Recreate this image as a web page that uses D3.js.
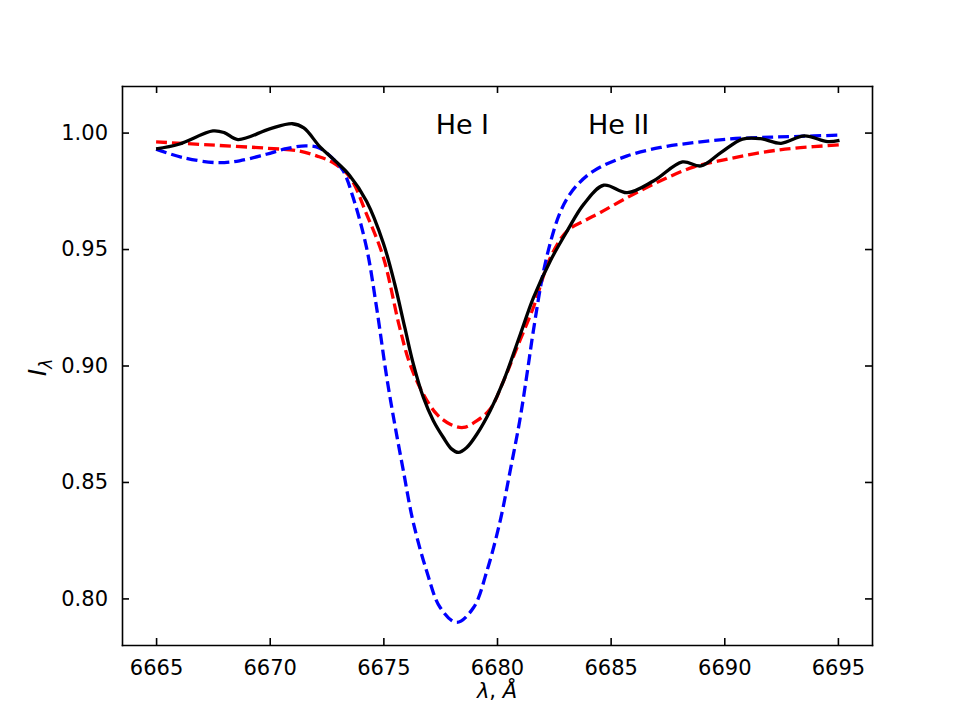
<!DOCTYPE html>
<html lang="en">
<head>
  <meta charset="UTF-8">
  <title>He I 6678 profile</title>
  <style>
    body {
      margin: 0;
      padding: 0;
      background: #fff;
    }
    svg {
      display: block;
      font-family: "DejaVu Sans", sans-serif;
    }
    .tick line, .domain {
      stroke: #000;
      stroke-width: 1.6px;
    }
  </style>
</head>
<body>
  <div id="chart"></div>

  <script src="https://d3js.org/d3.v7.min.js"></script>
  <script>
    // observed profile (black)
    const obsWave = [6665, 6666, 6667.5, 6668, 6668.6, 6670, 6671, 6671.5, 6672.2, 6672.8, 6673.5, 6674.26,
      6675, 6675.5, 6675.95, 6676.32, 6676.76, 6677.2, 6677.64, 6678.01, 6678.3, 6678.67, 6679.12,
      6679.7, 6680.29, 6681.03, 6681.6, 6682.35, 6683.09, 6683.82, 6684.7, 6685.73, 6686.9, 6688.16,
      6688.97, 6689.85, 6690.8, 6691.6, 6692.5, 6693.52, 6694.55, 6695.07];
    const obsFlux = [0.993, 0.995, 1.0007, 1.0, 0.997, 1.0016, 1.0038, 1.002, 0.994, 0.9886, 0.9818, 0.9705,
      0.9525, 0.935, 0.916, 0.9006, 0.8863, 0.8763, 0.8691, 0.8641, 0.8627, 0.8648, 0.8706,
      0.8806, 0.8934, 0.9135, 0.929, 0.945, 0.9578, 0.9693, 0.9774, 0.9742, 0.9793, 0.9874,
      0.9857, 0.9914, 0.9972, 0.9974, 0.9954, 0.9986, 0.9961, 0.9967];

    // model 1 (red dashed)
    const redWave = [6665, 6667.35, 6669.85, 6671.3, 6672.06, 6672.78, 6673.53, 6674.26, 6675, 6675.7,
      6676.17, 6676.76, 6677.35, 6677.94, 6678.52, 6679.12, 6679.7, 6680.29, 6680.88, 6681.6, 6682.35,
      6683.09, 6683.82, 6684.55, 6685.73, 6687.2, 6688.67, 6690.14, 6691.6, 6693.08, 6695.07];
    const redFlux = [0.996, 0.9947, 0.9933, 0.9921, 0.990, 0.9871, 0.9808, 0.965, 0.9464, 0.917,
      0.9006, 0.8877, 0.8791, 0.8748, 0.8734, 0.8763, 0.8813, 0.8934, 0.9077, 0.9249, 0.9464,
      0.9578, 0.962, 0.9657, 0.9721, 0.9793, 0.9853, 0.9886, 0.9914, 0.9933, 0.9947];

    // model 2 (blue dashed)
    const blueWave = [6665, 6666.17, 6667.65, 6668.67, 6669.85, 6670.73, 6671.6, 6672.2, 6672.8, 6673.23,
      6673.67, 6674.26, 6674.7, 6675.15, 6675.5, 6675.88, 6676.3, 6676.9, 6677.5, 6678.23, 6678.97,
      6679.56, 6680.14, 6680.58, 6681.0, 6681.32, 6681.6, 6682.05, 6682.5, 6682.8, 6683.09, 6683.5,
      6684.26, 6685.73, 6687.2, 6688.67, 6690.14, 6691.6, 6693.08, 6695.07];
    const blueFlux = [0.9929, 0.9893, 0.9871, 0.9879, 0.9907, 0.9931, 0.9943, 0.9933, 0.9886, 0.9836,
      0.9721, 0.9506, 0.925, 0.8948, 0.8748, 0.8548, 0.8333, 0.8119, 0.7961, 0.7897, 0.7961,
      0.8119, 0.8333, 0.8548, 0.8763, 0.8963, 0.9149, 0.9406, 0.9580, 0.9662, 0.9718, 0.9772,
      0.9836, 0.99, 0.9936, 0.9957, 0.9972, 0.9979, 0.9983, 0.9989];

    const xTicks = [6665, 6670, 6675, 6680, 6685, 6690, 6695];
    const yTicks = [0.80, 0.85, 0.90, 0.95, 1.00];

    const labels = [
      { text: "He I", wave: 6677.3 },
      { text: "He II", wave: 6684.0 }
    ];

    const width = 968;
    const height = 725;
    const margin = { top: 86, right: 96, bottom: 80, left: 122 };
    const innerW = width - margin.left - margin.right;
    const innerH = height - margin.top - margin.bottom;

    const x = d3.scaleLinear().domain([6663.5, 6696.5]).range([0, innerW]);
    const y = d3.scaleLinear().domain([0.78, 1.02]).range([innerH, 0]);

    const svg = d3.select("#chart")
      .append("svg")
      .attr("width", width)
      .attr("height", height);

    const g = svg.append("g")
      .attr("transform", `translate(${margin.left}, ${margin.top})`);

    // axes with inward ticks on every side
    const tickLen = 7;
    const axes = [
      g.append("g")
        .attr("transform", `translate(0, ${innerH})`)
        .call(d3.axisBottom(x).tickValues(xTicks).tickFormat(d3.format("d")).tickSizeInner(-tickLen).tickSizeOuter(0).tickPadding(tickLen + 8)),
      g.append("g")
        .call(d3.axisTop(x).tickValues(xTicks).tickFormat("").tickSizeInner(-tickLen).tickSizeOuter(0)),
      g.append("g")
        .call(d3.axisLeft(y).tickValues(yTicks).tickFormat(d3.format(".2f")).tickSizeInner(-tickLen).tickSizeOuter(0).tickPadding(tickLen + 7)),
      g.append("g")
        .attr("transform", `translate(${innerW}, 0)`)
        .call(d3.axisRight(y).tickValues(yTicks).tickFormat("").tickSizeInner(-tickLen).tickSizeOuter(0))
    ];

    axes.forEach(a => a.attr("font-family", "DejaVu Sans").attr("font-size", 21));
    g.selectAll(".tick text").attr("fill", "#000");
    g.selectAll(".domain").attr("stroke-linecap", "square");

    // curves
    const line = d3.line()
      .x(d => x(d[0]))
      .y(d => y(d[1]))
      .curve(d3.curveCatmullRom.alpha(0.5));

    const series = [
      { wave: redWave, flux: redFlux, color: "#ff0000", dash: "11,5" },
      { wave: blueWave, flux: blueFlux, color: "#0000ff", dash: "11,5" },
      { wave: obsWave, flux: obsFlux, color: "#000000", dash: null }
    ];

    series.forEach(s => {
      g.append("path")
        .datum(s.wave.map((w, i) => [w, s.flux[i]]))
        .attr("fill", "none")
        .attr("stroke", s.color)
        .attr("stroke-width", 3.3)
        .attr("stroke-dasharray", s.dash)
        .attr("d", line);
    });

    // line labels
    g.selectAll(".line-label")
      .data(labels)
      .enter()
      .append("text")
      .attr("class", "line-label")
      .attr("x", d => x(d.wave))
      .attr("y", y(1.0) + 1.5)
      .attr("font-size", 27)
      .text(d => d.text);

    // axis titles
    const xLabel = svg.append("text")
      .attr("x", margin.left + innerW / 2)
      .attr("y", 698)
      .attr("text-anchor", "middle")
      .attr("font-size", 21)
      .attr("font-style", "italic");
    xLabel.append("tspan").text("λ");
    xLabel.append("tspan").attr("font-style", "normal").text(", ");
    xLabel.append("tspan").text("Å");

    const yLabel = svg.append("text")
      .attr("transform", `translate(46, ${margin.top + innerH / 2 + 2}) rotate(-90)`)
      .attr("text-anchor", "middle")
      .attr("font-size", 25)
      .attr("font-style", "italic");
    yLabel.append("tspan").text("I");
    yLabel.append("tspan").attr("font-size", 17).attr("dy", 6).text("λ");
  </script>
</body>
</html>
